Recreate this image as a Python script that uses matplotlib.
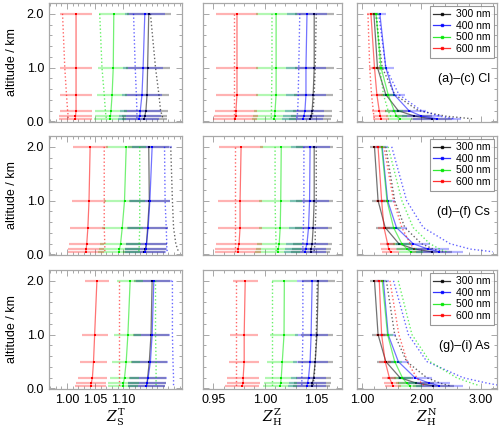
import matplotlib.pyplot as plt
from matplotlib.lines import Line2D
from matplotlib.ticker import MultipleLocator, FixedLocator

plt.rcParams['font.family'] = ['Liberation Sans', 'DejaVu Sans']
plt.rcParams['mathtext.fontset'] = 'dejavuserif'

altitude = [2.0, 1.0, 0.5, 0.2, 0.1, 0.05]
wavelengths = ['300 nm', '400 nm', '500 nm', '600 nm']
colors = ['#000000', '#0000ff', '#00e600', '#ff0000']

# rows of each table: 300, 400, 500, 600 nm; columns follow `altitude`
# ---- Cl ----
cl_zst = [[1.145, 1.143, 1.142, 1.140, 1.138, 1.137],
          [1.138, 1.135, 1.133, 1.130, 1.129, 1.127],
          [1.083, 1.082, 1.080, 1.078, 1.077, 1.076],
          [1.016, 1.016, 1.016, 1.016, 1.015, 1.015]]
cl_zst_dot = [[1.148, 1.157, 1.163, 1.166, 1.169, 1.170],
              [1.118, 1.121, 1.123, 1.124, 1.124, 1.124],
              [1.058, 1.062, 1.066, 1.068, 1.069, 1.070],
              [0.992, 0.996, 0.999, 1.001, 1.002, 1.002]]
cl_zst_err = [[0.039, 0.039, 0.039, 0.039, 0.040, 0.040],
              [0.036, 0.036, 0.036, 0.036, 0.037, 0.037],
              [0.027, 0.027, 0.027, 0.028, 0.028, 0.028],
              [0.029, 0.029, 0.029, 0.029, 0.030, 0.030]]

cl_zhz = [[1.048, 1.048, 1.047, 1.046, 1.045, 1.044],
          [1.041, 1.040, 1.040, 1.039, 1.038, 1.037],
          [1.011, 1.011, 1.011, 1.010, 1.0095, 1.009],
          [0.973, 0.973, 0.973, 0.972, 0.972, 0.971]]
cl_zhz_dot = [[1.050, 1.049, 1.048, 1.047, 1.046, 1.045],
              [1.034, 1.033, 1.0325, 1.032, 1.0315, 1.031],
              [1.007, 1.007, 1.0066, 1.0065, 1.0063, 1.0063],
              [0.970, 0.970, 0.970, 0.970, 0.970, 0.970]]
cl_zhz_err = [[0.019, 0.019, 0.019, 0.019, 0.020, 0.020],
              [0.019, 0.019, 0.019, 0.019, 0.020, 0.020],
              [0.020, 0.020, 0.020, 0.020, 0.021, 0.021],
              [0.020, 0.020, 0.020, 0.020, 0.021, 0.021]]

cl_zhn = [[1.20, 1.26, 1.40, 1.61, 1.88, 2.17],
          [1.30, 1.40, 1.54, 1.79, 2.00, 2.26],
          [1.235, 1.32, 1.44, 1.54, 1.58, 1.64],
          [1.15, 1.21, 1.25, 1.29, 1.31, 1.32]]
cl_zhn_dot = [[1.23, 1.34, 1.55, 1.95, 2.40, 2.85],
              [1.28, 1.40, 1.62, 2.00, 2.30, 2.55],
              [1.25, 1.30, 1.36, 1.44, 1.48, 1.50],
              [1.10, 1.13, 1.16, 1.19, 1.20, 1.21]]
cl_zhn_err = [[0.07, 0.10, 0.15, 0.22, 0.30, 0.35],
              [0.10, 0.13, 0.18, 0.28, 0.33, 0.40],
              [0.07, 0.09, 0.12, 0.15, 0.17, 0.20],
              [0.07, 0.09, 0.10, 0.12, 0.13, 0.14]]

# ---- Cs ----
cs_zst = [[1.145, 1.146, 1.143, 1.141, 1.139, 1.137],
          [1.151, 1.147, 1.144, 1.141, 1.140, 1.139],
          [1.105, 1.102, 1.098, 1.095, 1.093, 1.092],
          [1.041, 1.039, 1.037, 1.035, 1.034, 1.033]]
cs_zst_dot = [[1.184, 1.187, 1.189, 1.193, 1.196, 1.198],
              [1.173, 1.174, 1.176, 1.177, 1.177, 1.178],
              [1.129, 1.129, 1.129, 1.128, 1.128, 1.127],
              [1.066, 1.066, 1.066, 1.067, 1.067, 1.067]]
cs_zst_err = [[0.036, 0.036, 0.036, 0.036, 0.037, 0.037],
              [0.036, 0.036, 0.036, 0.036, 0.037, 0.037],
              [0.036, 0.036, 0.036, 0.036, 0.037, 0.037],
              [0.031, 0.031, 0.031, 0.031, 0.032, 0.032]]

cs_zhz = [[1.048, 1.048, 1.047, 1.046, 1.045, 1.0445],
          [1.044, 1.0435, 1.0425, 1.041, 1.0396, 1.039],
          [1.016, 1.0155, 1.015, 1.014, 1.013, 1.0125],
          [0.977, 0.976, 0.976, 0.975, 0.974, 0.974]]
cs_zhz_dot = [[1.050, 1.050, 1.049, 1.049, 1.048, 1.048],
              [1.038, 1.038, 1.0375, 1.037, 1.037, 1.037],
              [1.010, 1.010, 1.0105, 1.011, 1.011, 1.011],
              [0.971, 0.971, 0.971, 0.971, 0.971, 0.971]]
cs_zhz_err = [[0.018, 0.018, 0.018, 0.019, 0.019, 0.019],
              [0.019, 0.019, 0.019, 0.020, 0.020, 0.020],
              [0.021, 0.021, 0.021, 0.022, 0.022, 0.022],
              [0.021, 0.021, 0.021, 0.022, 0.022, 0.022]]

cs_zhn = [[1.21, 1.27, 1.39, 1.62, 1.88, 2.17],
          [1.34, 1.43, 1.58, 1.86, 2.11, 2.30],
          [1.33, 1.42, 1.53, 1.67, 1.76, 1.82],
          [1.27, 1.33, 1.37, 1.43, 1.45, 1.48]]
cs_zhn_dot = [[1.40, 1.55, 1.72, 2.00, 2.20, 2.36],
              [1.50, 1.75, 2.03, 2.48, 2.82, 3.20],
              [1.44, 1.67, 1.86, 2.14, 2.31, 2.42],
              [1.37, 1.53, 1.67, 1.81, 1.88, 1.90]]
cs_zhn_err = [[0.08, 0.11, 0.15, 0.22, 0.30, 0.35],
              [0.10, 0.13, 0.18, 0.28, 0.35, 0.40],
              [0.07, 0.09, 0.12, 0.15, 0.17, 0.20],
              [0.08, 0.09, 0.10, 0.12, 0.13, 0.14]]

# ---- As ----
as_zst = [[1.151, 1.149, 1.146, 1.143, 1.142, 1.141],
          [1.154, 1.151, 1.148, 1.144, 1.142, 1.141],
          [1.112, 1.108, 1.105, 1.102, 1.100, 1.099],
          [1.053, 1.049, 1.047, 1.045, 1.043, 1.042]]
as_zst_dot = [[1.220, 1.220, 1.225, 1.225, 1.230, 1.230],
              [1.187, 1.187, 1.188, 1.189, 1.189, 1.189],
              [1.157, 1.157, 1.158, 1.158, 1.158, 1.158],
              [1.093, 1.093, 1.093, 1.093, 1.093, 1.093]]
as_zst_err = [[0.032, 0.032, 0.032, 0.033, 0.033, 0.033],
              [0.032, 0.032, 0.032, 0.033, 0.033, 0.033],
              [0.023, 0.024, 0.025, 0.026, 0.027, 0.027],
              [0.022, 0.023, 0.024, 0.026, 0.027, 0.027]]

as_zhz = [[1.052, 1.0507, 1.049, 1.0474, 1.046, 1.0455],
          [1.046, 1.045, 1.044, 1.0425, 1.0415, 1.041],
          [1.019, 1.0187, 1.017, 1.016, 1.0154, 1.015],
          [0.981, 0.980, 0.980, 0.979, 0.979, 0.978]]
as_zhz_dot = [[1.051, 1.050, 1.049, 1.048, 1.047, 1.047],
              [1.037, 1.037, 1.0365, 1.036, 1.036, 1.036],
              [1.007, 1.007, 1.007, 1.007, 1.007, 1.007],
              [0.972, 0.972, 0.972, 0.972, 0.972, 0.972]]
as_zhz_err = [[0.016, 0.016, 0.017, 0.017, 0.018, 0.018],
              [0.015, 0.016, 0.017, 0.017, 0.018, 0.018],
              [0.012, 0.0135, 0.0145, 0.0155, 0.016, 0.0165],
              [0.012, 0.0135, 0.0145, 0.0155, 0.016, 0.0165]]

as_zhn = [[1.21, 1.27, 1.40, 1.64, 1.91, 2.20],
          [1.36, 1.44, 1.61, 1.89, 2.13, 2.30],
          [1.34, 1.43, 1.55, 1.68, 1.75, 1.81],
          [1.29, 1.33, 1.39, 1.46, 1.50, 1.52]]
as_zhn_dot = [[1.41, 1.55, 1.75, 2.09, 2.31, 2.48],
              [1.53, 1.78, 2.09, 2.70, 3.10, 3.35],
              [1.61, 1.84, 2.14, 2.59, 2.84, 2.98],
              [1.47, 1.62, 1.76, 1.92, 2.00, 2.05]]
as_zhn_err = [[0.08, 0.11, 0.15, 0.22, 0.30, 0.35],
              [0.10, 0.13, 0.18, 0.28, 0.35, 0.40],
              [0.07, 0.09, 0.12, 0.15, 0.17, 0.20],
              [0.08, 0.09, 0.10, 0.12, 0.13, 0.14]]

row_titles = ['(a)\u2013(c) Cl', '(d)\u2013(f) Cs', '(g)\u2013(i) As']
panels = [[(cl_zst, cl_zst_dot, cl_zst_err), (cl_zhz, cl_zhz_dot, cl_zhz_err), (cl_zhn, cl_zhn_dot, cl_zhn_err)],
          [(cs_zst, cs_zst_dot, cs_zst_err), (cs_zhz, cs_zhz_dot, cs_zhz_err), (cs_zhn, cs_zhn_dot, cs_zhn_err)],
          [(as_zst, as_zst_dot, as_zst_err), (as_zhz, as_zhz_dot, as_zhz_err), (as_zhn, as_zhn_dot, as_zhn_err)]]

x_labels = [r'$Z^{\rm T}_{\rm S}$', r'$Z^{\rm Z}_{\rm H}$', r'$Z^{\rm N}_{\rm H}$']
x_ticks = [[1.00, 1.05, 1.10], [0.95, 1.00, 1.05], [1.0, 2.0, 3.0]]
x_minor = [0.01, 0.01, 0.2]
x_lims = [(0.968, 1.204), (0.940, 1.075), (0.916, 3.27)]

col_pos = [(49, 182), (203, 342), (357, 497)]
row_pos = [(3, 122), (136, 255), (270, 389)]
W, H = 500, 430

fig = plt.figure(figsize=(5.0, 4.3), dpi=100)
frame_col = '#a8a8a8'

for i in range(3):
    for j in range(3):
        x0, x1 = col_pos[j]
        y0, y1 = row_pos[i]
        ax = fig.add_axes([x0 / W, 1 - y1 / H, (x1 - x0) / W, (y1 - y0) / H])
        solid, dotted, err = panels[i][j]
        for k in range(4):
            c = colors[k]
            ax.errorbar(solid[k], altitude, xerr=err[k], fmt='none', ecolor=c,
                        alpha=0.3, elinewidth=1.6, capsize=0)
            ax.plot(dotted[k], altitude, ':', color=c, alpha=0.6, lw=1.0)
            ax.plot(solid[k], altitude, '-', color=c, alpha=0.55, lw=0.9)
            ax.plot(solid[k], altitude, 's', color=c, ms=2.0, mew=0)
        ax.set_xlim(*x_lims[j])
        ax.set_ylim(-0.01, 2.2)
        ax.xaxis.set_major_locator(FixedLocator(x_ticks[j]))
        ax.xaxis.set_minor_locator(MultipleLocator(x_minor[j]))
        ax.yaxis.set_major_locator(FixedLocator([0.0, 1.0, 2.0]))
        ax.yaxis.set_minor_locator(MultipleLocator(0.2))
        ax.tick_params(which='both', direction='in', top=True, right=True,
                       colors=frame_col, labelcolor='black', labelsize=9, width=0.7)
        ax.tick_params(which='major', length=4)
        ax.tick_params(which='minor', length=2)
        for s in ax.spines.values():
            s.set_color(frame_col)
            s.set_linewidth(0.9)
        if j == 0:
            ax.set_yticklabels(['0.0', '1.0', '2.0'])
            ax.set_ylabel('altitude / km', fontsize=9, labelpad=6)
        else:
            ax.set_yticklabels([])
        if i == 2:
            ax.set_xticklabels(['%.2f' % t for t in x_ticks[j]])
            fig.text((x0 + x1) / 2 / W, 2 / H, x_labels[j], fontsize=10,
                     ha='center', va='bottom')
        else:
            ax.set_xticklabels([])
        if j == 2:
            handles = [Line2D([0], [0], color=colors[k], lw=0.9, marker='s', ms=2.0,
                              alpha=0.8) for k in range(4)]
            leg = ax.legend(handles, wavelengths, loc='upper right', fontsize=7.5,
                            handlelength=1.6, labelspacing=0.15, borderpad=0.35,
                            handletextpad=0.6, fancybox=False, borderaxespad=0.25)
            leg.get_frame().set_edgecolor('#808080')
            leg.get_frame().set_linewidth(0.8)
            ax.text(0.95, 0.36, row_titles[i], transform=ax.transAxes,
                    ha='right', va='center', fontsize=9)

fig.savefig('out.png', dpi=100)
